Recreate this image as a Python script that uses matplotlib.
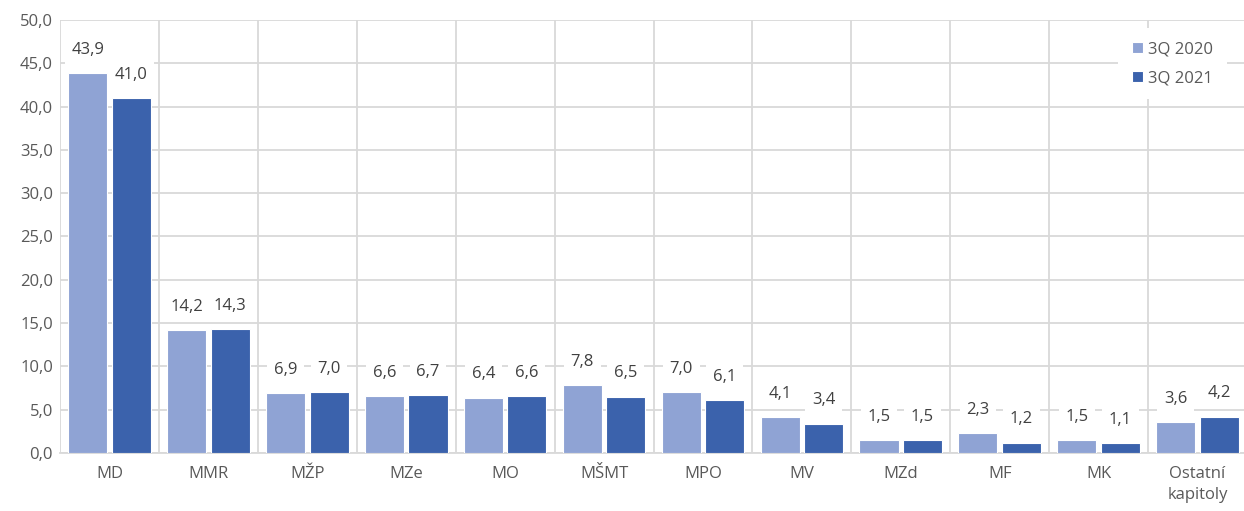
import matplotlib
matplotlib.use("Agg")
import matplotlib.pyplot as plt
import numpy as np

categories = ["MD", "MMR", "MŽP", "MZe", "MO", "MŠMT", "MPO", "MV", "MZd", "MF", "MK", "Ostatní\nkapitoly"]
series_2020 = [43.9, 14.2, 6.9, 6.6, 6.4, 7.8, 7.0, 4.1, 1.5, 2.3, 1.5, 3.6]
series_2021 = [41.0, 14.3, 7.0, 6.7, 6.6, 6.5, 6.1, 3.4, 1.5, 1.2, 1.1, 4.2]
series_names = ["3Q 2020", "3Q 2021"]
yticks = np.arange(0, 50.01, 5)

c1 = "#8FA3D4"
c2 = "#3B62AC"
txt = "#595959"
grid = "#D9D9D9"

plt.rcParams['font.family'] = ['Open Sans', 'DejaVu Sans']

fig = plt.figure(figsize=(12.44, 5.11), dpi=100)
ax = fig.add_axes([60/1244, 1 - 453/511, (1247-60)/1244, (453-20)/511])

x = np.arange(len(categories))
w = 0.395
off = 0.22
b1 = ax.bar(x - off, series_2020, w, color=c1, edgecolor="white", linewidth=0.8, label=series_names[0], zorder=3)
b2 = ax.bar(x + off, series_2021, w, color=c2, edgecolor="white", linewidth=0.8, label=series_names[1], zorder=3)

ax.set_xlim(-0.5, len(categories) - 0.5)
ax.set_ylim(0, 50)
ax.set_yticks(yticks)
ax.set_yticklabels([f"{v:.1f}".replace(".", ",") for v in yticks], color=txt, fontsize=12)
ax.set_xticks(x)
ax.set_xticklabels(categories, color=txt, fontsize=12, linespacing=1.45)
ax.tick_params(axis='both', length=0)
ax.tick_params(axis='x', pad=9)
ax.tick_params(axis='y', pad=5)

ax.set_xticks(np.arange(-0.5, len(categories)), minor=True)
ax.tick_params(axis='x', which='minor', length=0)
ax.grid(axis='y', which='major', color=grid, linewidth=1.3, zorder=0)
ax.grid(axis='x', which='minor', color=grid, linewidth=1.3, zorder=0)
ax.grid(axis='x', which='major', visible=False)
for s in ['top', 'right', 'left']:
    ax.spines[s].set_visible(False)
ax.spines['bottom'].set_color(grid)
ax.spines['bottom'].set_linewidth(1.3)

for bars, vals in ((b1, series_2020), (b2, series_2021)):
    for r, v in zip(bars, vals):
        ax.annotate(f"{v:.1f}".replace(".", ","), (r.get_x() + r.get_width()/2, v),
                    xytext=(0, 11), textcoords="offset points", ha="center", va="bottom",
                    fontsize=12, color="#404040", zorder=5,
                    bbox=dict(boxstyle="square,pad=0.4", fc="white", ec="none"))

leg = ax.legend(loc="upper right", bbox_to_anchor=(0.99, 1.0), frameon=True,
                fontsize=12, handlelength=0.65, handleheight=0.65, handletextpad=0.35,
                labelspacing=0.75, borderpad=0.8, fancybox=False)
leg.get_frame().set_edgecolor("none")
leg.get_frame().set_facecolor("white")
leg.get_frame().set_alpha(1)
leg.set_zorder(6)
for t in leg.get_texts():
    t.set_color(txt)

fig.savefig("out.png", dpi=100)
